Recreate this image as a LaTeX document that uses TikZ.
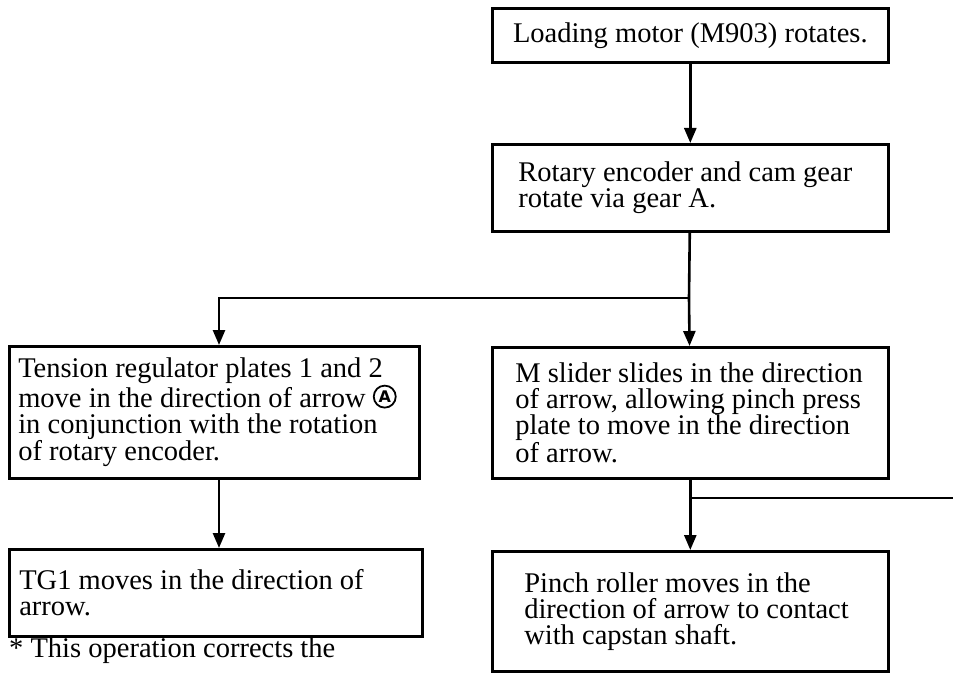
\documentclass[tikz,border=0pt]{standalone}
\usepackage{fontspec}
\setmainfont{Liberation Serif}
\newfontfamily\symfont{DejaVu Sans}
\usetikzlibrary{arrows.meta}

\tikzset{
	stepbox/.style = {draw, line width = 2.6pt, anchor = north west, align = flush left,
		inner ysep = 0pt, font = \fontsize{28.5}{26}\selectfont},
	circmark/.style = {circle, draw, line width = 1.8pt, inner sep = 0pt, minimum size = 22pt,
		font = \fontsize{16}{16}\selectfont\symfont\bfseries},
}

% circled letter, drawn as a shape
\newcommand{\circmarkA}{\tikz[baseline = {([yshift = 1pt]mark.south)}] \node [circmark] (mark) {A};}

\begin{document}
\begin{tikzpicture}[x = 1pt, y = -1pt, > = {Triangle[length = 15pt, width = 12pt]}]

	\useasboundingbox (0, 0) rectangle (953, 674);

	% The boxes

	\node [stepbox, align = center, minimum width = 396pt, minimum height = 54pt] (motor) at (491, 7) {Loading motor (M903) rotates.};
	\node [stepbox, inner xsep = 26pt, text width = 344pt, minimum height = 87pt] (encoder) at (491, 143) {Rotary encoder and cam gear\\rotate via gear A.};
	\node [stepbox, inner xsep = 9pt, text width = 392pt, minimum height = 132pt] (tension) at (8, 345) {Tension regulator plates 1 and 2\\move in the direction of arrow \circmarkA\\in conjunction with the rotation\\of rotary encoder.};
	\node [stepbox, inner xsep = 23pt, text width = 350pt, minimum height = 131pt] (slider) at (491, 346) {M slider slides in the direction\\of arrow, allowing pinch press\\plate to move in the direction\\of arrow.};
	\node [stepbox, inner xsep = 10pt, text width = 393pt, minimum height = 87pt] (tg) at (8, 548) {TG1 moves in the direction of\\arrow.};
	\node [stepbox, inner xsep = 32pt, text width = 332pt, minimum height = 120pt] (pinch) at (491, 550) {Pinch roller moves in the\\direction of arrow to contact\\with capstan shaft.};

	\node [anchor = base west, inner sep = 0pt, font = \fontsize{28.5}{26}\selectfont] (note) at (9, 657) {* This operation corrects the};

	% The connectors

	\coordinate (split) at (689, 298);
	\coordinate (turn) at (219, 298);
	\coordinate (tap) at (689, 498);
	\coordinate (offpage) at (953, 498);

	\begin{scope}[line width = 2.6pt]

		\draw [->] (motor) -- (encoder);
		\draw [->] (encoder) -- (split) -- (slider);
		\draw [->] (split) -- (turn) -- (turn |- tension.north);
		\draw [->] (turn |- tension.south) -- (turn |- tg.north);
		\draw [->] (slider) -- (pinch);
		\draw (tap) -- (offpage);

	\end{scope}

\end{tikzpicture}
\end{document}
